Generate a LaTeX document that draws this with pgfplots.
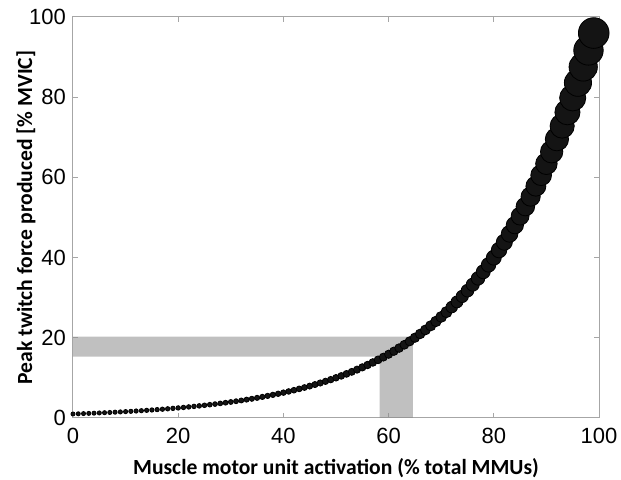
\documentclass[border=0pt]{standalone}
\usepackage{fontspec}
\setmainfont{Liberation Sans}
\newfontfamily\labelfont{Carlito}
\usepackage{pgfplots}
\pgfplotsset{compat=1.18}
\definecolor{axisgray}{HTML}{A6A6A6}
\definecolor{dotfill}{HTML}{141414}
\definecolor{bandgray}{HTML}{8C8C8C}

% peak twitch force vs. motor unit activation
\pgfplotstableread{
x y
0 1.00
1 1.05
2 1.10
3 1.15
4 1.20
5 1.26
6 1.32
7 1.38
8 1.45
9 1.51
10 1.59
11 1.66
12 1.74
13 1.82
14 1.91
15 2.00
16 2.09
17 2.19
18 2.29
19 2.40
20 2.51
21 2.63
22 2.76
23 2.89
24 3.02
25 3.17
26 3.32
27 3.47
28 3.64
29 3.81
30 3.99
31 4.18
32 4.37
33 4.58
34 4.79
35 5.02
36 5.26
37 5.51
38 5.77
39 6.04
40 6.32
41 6.62
42 6.93
43 7.26
44 7.60
45 7.96
46 8.34
47 8.73
48 9.14
49 9.57
50 10.03
51 10.50
52 11.00
53 11.51
54 12.06
55 12.63
56 13.22
57 13.85
58 14.50
59 15.18
60 15.90
61 16.65
62 17.44
63 18.26
64 19.12
65 20.02
66 20.97
67 21.96
68 22.99
69 24.08
70 25.21
71 26.40
72 27.65
73 28.95
74 30.32
75 31.75
76 33.25
77 34.81
78 36.46
79 38.18
80 39.98
81 41.87
82 43.84
83 45.91
84 48.08
85 50.34
86 52.72
87 55.21
88 57.81
89 60.54
90 63.40
91 66.39
92 69.52
93 72.80
94 76.24
95 79.83
96 83.60
97 87.54
98 91.67
99 96.00
}\forcedata

\begin{document}
\begin{tikzpicture}
\useasboundingbox (-36.5pt,-31pt) rectangle (274pt,209pt);
\begin{axis}[
    at={(0,0)}, anchor=south west,
    scale only axis, width=263pt, height=200.5pt,
    xmin=0, xmax=100, ymin=0, ymax=100,
    xtick={0,20,40,60,80,100}, ytick={0,20,40,60,80,100},
    tick align=inside, major tick length=2.5pt,
    axis line style={draw=axisgray, line width=0.5pt},
    every tick/.style={draw=axisgray, line width=0.5pt},
    tick label style={font=\fontsize{11}{13}\selectfont},
    xticklabel style={yshift=-1.5pt},
    /pgf/number format/assume math mode=true,
    xlabel={Muscle motor unit activation (\% total MMUs)},
    ylabel={Peak twitch force produced [\% MVIC]},
    label style={font=\labelfont\bfseries\fontsize{10.8}{13}\selectfont},
    xlabel style={at={(axis description cs:0.5,-0.125)}, anchor=center},
    ylabel style={at={(axis description cs:-0.0894,0.5)}, anchor=center},
    clip=false,
]
\addplot[scatter, only marks, mark=*,
    scatter/use mapped color={draw=black, fill=dotfill},
    mark options={line width=0.4pt},
    visualization depends on={0.95+0.07*\thisrow{y} \as \msize},
    scatter/@pre marker code/.append style={/tikz/mark size=\msize pt},
] table[x=x, y=y] {\forcedata};
\addplot[draw=none, fill=bandgray, fill opacity=0.55] coordinates {
    (0,15.3) (58.3,15.3) (58.3,0) (64.6,0) (64.6,20.3) (0,20.3) (0,15.3)
};
\end{axis}
\end{tikzpicture}
\end{document}
